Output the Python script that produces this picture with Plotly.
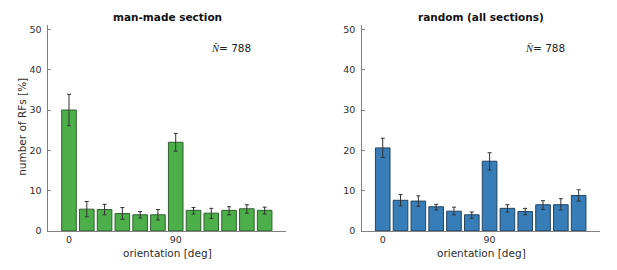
import plotly.graph_objects as go

orientation = [0, 15, 30, 45, 60, 75, 90, 105, 120, 135, 150, 165]

manmade_vals = [30.0, 5.4, 5.3, 4.3, 4.0, 4.0, 22.0, 5.1, 4.4, 5.1, 5.5, 5.1]
manmade_hi = [33.9, 7.3, 6.6, 5.8, 4.8, 5.3, 24.2, 5.8, 5.6, 6.0, 6.5, 5.9]
manmade_lo = [26.1, 3.5, 4.0, 2.9, 3.2, 2.7, 19.8, 4.2, 3.1, 4.0, 4.4, 4.2]

random_vals = [20.6, 7.6, 7.4, 6.0, 4.9, 4.0, 17.3, 5.6, 4.8, 6.5, 6.5, 8.8]
random_hi = [23.0, 9.0, 8.7, 6.6, 5.9, 4.7, 19.4, 6.5, 5.6, 7.5, 8.0, 10.2]
random_lo = [18.2, 6.2, 6.1, 5.2, 4.0, 3.1, 15.1, 4.7, 4.0, 5.3, 5.2, 7.4]

titles = ["man-made section", "random (all sections)"]
n_label = "<span style='font-family:Liberation Serif'><i>N̄</i></span>= 788"
x_title = "orientation [deg]"
y_title = "number of RFs [%]"
x_ticks = [0, 90]
y_ticks = [0, 10, 20, 30, 40, 50]

FONT = "DejaVu Sans"
AXC = "#808080"
TXT = "#2e2e2e"
W, H = 617, 270

fig = go.Figure()

def add_panel(vals, hi, lo, color, edge, xa, ya):
    fig.add_trace(go.Bar(
        x=orientation, y=vals, xaxis=xa, yaxis=ya,
        marker=dict(color=color, line=dict(color=edge, width=1)),
        error_y=dict(type="data", symmetric=False,
                     array=[h - v for h, v in zip(hi, vals)],
                     arrayminus=[v - l for v, l in zip(vals, lo)],
                     color="#333333", thickness=1, width=2),
        showlegend=False, width=12.3,
    ))

add_panel(manmade_vals, manmade_hi, manmade_lo, "#4daf4a", "#2f5f2e", "x", "y")
add_panel(random_vals, random_hi, random_lo, "#377eb8", "#23435f", "x2", "y2")

xcommon = dict(range=[-17.3, 183], tickmode="array", tickvals=x_ticks,
               showline=True, linecolor=AXC, linewidth=1, ticks="",
               showgrid=False, zeroline=False,
               tickfont=dict(family=FONT, size=9.5, color=TXT))
ycommon = dict(range=[0, 51], tickmode="array", tickvals=y_ticks,
               showline=True, linecolor=AXC, linewidth=1, ticks="inside",
               ticklen=3, tickcolor=AXC, showgrid=False, zeroline=False,
               ticklabelstandoff=4,
               tickfont=dict(family=FONT, size=9.5, color=TXT))

XD1 = [0.0786, 0.4635]
XD2 = [0.587, 0.9725]
YD = [0.1296, 0.911]

fig.update_layout(
    width=W, height=H,
    margin=dict(l=0, r=0, t=0, b=0),
    plot_bgcolor="white", paper_bgcolor="white",
    xaxis=dict(domain=XD1, anchor="y", **xcommon),
    yaxis=dict(domain=YD, anchor="x", **ycommon),
    xaxis2=dict(domain=XD2, anchor="y2", **xcommon),
    yaxis2=dict(domain=YD, anchor="x2", **ycommon),
    bargap=0.18,
)

for i, (xa, ya, dom) in enumerate([("x", "y", XD1), ("x2", "y2", XD2)]):
    cx = (dom[0] + dom[1]) / 2
    fig.add_annotation(
        text="<b>" + titles[i] + "</b>", xref="paper", yref="paper",
        x=cx, y=1 - 15 / H, showarrow=False,
        xanchor="center", yanchor="middle",
        font=dict(family=FONT, size=10.5, color="#111111"))
    fig.add_annotation(
        text=x_title, xref="paper", yref="paper",
        x=cx, y=1 - 258 / H, showarrow=False,
        xanchor="center", yanchor="middle",
        font=dict(family=FONT, size=10.5, color=TXT))
    fig.add_annotation(
        text=n_label, xref=xa + " domain", yref=ya,
        x=0.77, y=45.4, showarrow=False, xanchor="center", yanchor="middle",
        font=dict(family=FONT, size=10.5, color="#222222"))

fig.add_annotation(
    text=y_title, xref="paper", yref="paper",
    x=21.7 / W, y=1 - 128.5 / H, showarrow=False, textangle=-90,
    xanchor="center", yanchor="middle",
    font=dict(family=FONT, size=10.5, color=TXT))

post = (
    "document.documentElement.style.overflow='hidden';"
    "document.body.style.margin='0';"
    "document.body.style.overflow='hidden';"
    "var d=document.getElementById('{plot_id}');"
    "d.style.display='block';"
)

fig.write_html("out.html", config={"displayModeBar": False}, post_script=post)
